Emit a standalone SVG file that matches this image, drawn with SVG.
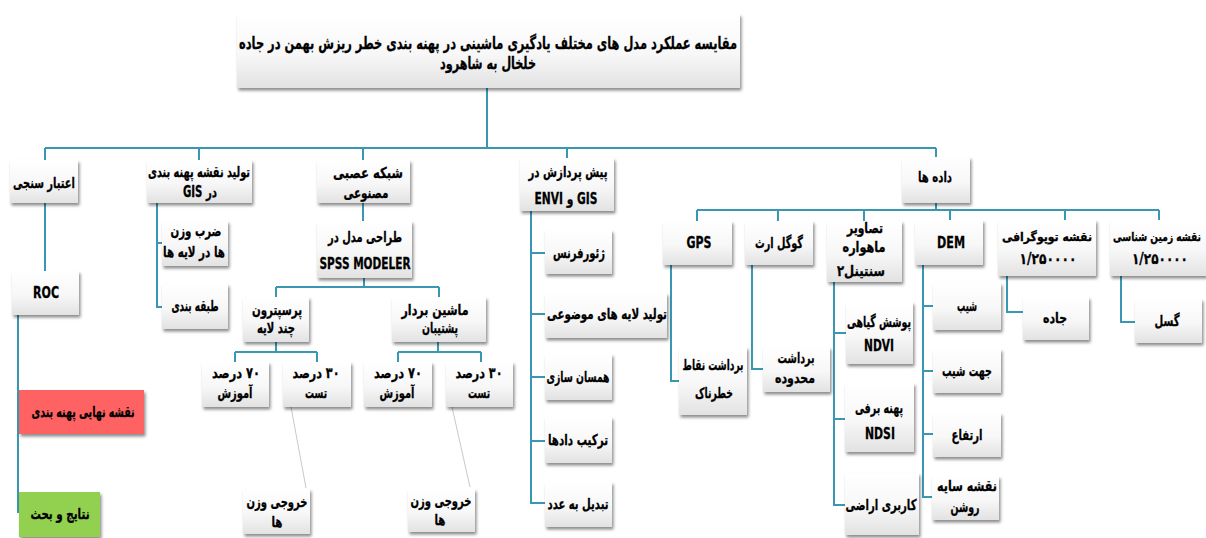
<svg xmlns="http://www.w3.org/2000/svg" width="1206" height="538" viewBox="0 0 1206 538">
<defs>
<linearGradient id="g" x1="0" y1="0" x2="0" y2="1">
<stop offset="0" stop-color="#ffffff"/>
<stop offset="0.55" stop-color="#f7f7f7"/>
<stop offset="1" stop-color="#e2e2e2"/>
</linearGradient>
<filter id="sh" x="-20%" y="-20%" width="140%" height="150%">
<feDropShadow dx="1.5" dy="2.5" stdDeviation="1.5" flood-color="#000" flood-opacity="0.45"/>
</filter>
</defs>
<style>
.b{fill:url(#g);filter:url(#sh);}
.t{font-family:'DejaVu Sans',sans-serif;font-weight:bold;font-size:15px;fill:#000;stroke:#000;stroke-width:0.3;text-anchor:middle;direction:rtl;dominant-baseline:central;}
.tt{font-size:17px;}
.ts{font-size:12px;}
.c{fill:none;stroke:#3A97B2;stroke-width:2;}
.g{fill:none;stroke:#c9c9c9;stroke-width:1;}
</style>
<rect width="1206" height="538" fill="#fff"/>
<g id="connectors">
<path class="c" d="M487 88V148M45 148H936M45 148V160M199 148V160M363 148V160M567 148V158M936 148V157"/>
<path class="c" d="M45 203V271M18 315V513"/>
<path class="c" d="M157 203V307H162M157 243H162"/>
<path class="c" d="M363 203V221M364 278V287M276 287H439M276 287V297M439 287V297"/>
<path class="c" d="M276 342V352M235 352H317M235 352V362M317 352V362"/>
<path class="c" d="M438 342V352M398 352H481M398 352V362M481 352V362"/>
<path class="c" d="M531 211V503H545M531 253H545M531 314H545M531 377H545M531 441H545"/>
<path class="c" d="M936 203V210M697 210H1159M697 210V221M778 210V221M864 210V221M950 210V220M1065 210V220M1159 210V220"/>
<path class="c" d="M671 265V381H679M752 265V369H763"/>
<path class="c" d="M834 282V505H845M834 333H846M834 419H845"/>
<path class="c" d="M923 265V497H932M923 306H933M923 371H933M923 434H933"/>
<path class="c" d="M1007 276V312H1023M1121 276V322H1135"/>
<path class="g" d="M291 407L306 488M452 407L470 487"/>
</g>
<g id="title"><rect class="b" x="237" y="14" width="503" height="74"/>
<text class="t tt" x="488" y="43" textLength="498" lengthAdjust="spacingAndGlyphs">مقایسه عملکرد مدل های مختلف یادگیری ماشینی در  پهنه بندی خطر ریزش بهمن در جاده</text>
<text class="t tt" x="488" y="63" textLength="96" lengthAdjust="spacingAndGlyphs">خلخال به شاهرود</text></g>
<g id="validation"><rect class="b" x="10" y="160" width="68" height="43"/><text class="t" x="44" y="183" textLength="62" lengthAdjust="spacingAndGlyphs">اعتبار سنجی</text></g>
<g id="gismap"><rect class="b" x="147" y="160" width="105" height="43"/><text class="t" x="199" y="172" textLength="102" lengthAdjust="spacingAndGlyphs">تولید نقشه پهنه بندی</text><text class="t" x="200" y="192" textLength="34" lengthAdjust="spacingAndGlyphs">در GIS</text></g>
<g id="ann"><rect class="b" x="317" y="160" width="93" height="43"/><text class="t" x="368" y="173" textLength="70" lengthAdjust="spacingAndGlyphs">شبکه عصبی</text><text class="t" x="366" y="193" textLength="45" lengthAdjust="spacingAndGlyphs">مصنوعی</text></g>
<g id="preproc"><rect class="b" x="520" y="158" width="94" height="53"/><text class="t" x="568" y="172" textLength="79" lengthAdjust="spacingAndGlyphs">پیش پردازش در</text><text class="t" x="566" y="199" textLength="63" lengthAdjust="spacingAndGlyphs">GIS و ENVI</text></g>
<g id="data"><rect class="b" x="902" y="157" width="68" height="46"/><text class="t" x="935" y="177" textLength="34" lengthAdjust="spacingAndGlyphs">داده ها</text></g>
<g id="gps"><rect class="b" x="663" y="221" width="69" height="44"/><text class="t" x="699" y="243" textLength="25" lengthAdjust="spacingAndGlyphs">GPS</text></g>
<g id="googleearth"><rect class="b" x="745" y="221" width="68" height="44"/><text class="t" x="779" y="243" textLength="48" lengthAdjust="spacingAndGlyphs">گوگل ارث</text></g>
<g id="sentinel"><rect class="b" x="827" y="221" width="75" height="61"/><text class="t" x="865" y="228" textLength="36" lengthAdjust="spacingAndGlyphs">تصاویر</text><text class="t" x="864" y="247" textLength="43" lengthAdjust="spacingAndGlyphs">ماهواره</text><text class="t" x="861" y="271" textLength="48" lengthAdjust="spacingAndGlyphs">سنتینل۲</text></g>
<g id="dem"><rect class="b" x="915" y="220" width="68" height="45"/><text class="t" x="951" y="243" textLength="28" lengthAdjust="spacingAndGlyphs">DEM</text></g>
<g id="topo"><rect class="b" x="998" y="220" width="98" height="56"/><text class="t ts" x="1047" y="237" textLength="90" lengthAdjust="spacingAndGlyphs">نقشه توپوگرافی</text><text class="t" x="1048" y="259" textLength="57" lengthAdjust="spacingAndGlyphs">۱/۲۵۰۰۰۰</text></g>
<g id="geology"><rect class="b" x="1110" y="220" width="96" height="56"/><text class="t ts" x="1157" y="237" textLength="88" lengthAdjust="spacingAndGlyphs">نقشه زمین شناسی</text><text class="t" x="1160" y="259" textLength="56" lengthAdjust="spacingAndGlyphs">۱/۲۵۰۰۰۰</text></g>
<g id="slope"><rect class="b" x="933" y="283" width="68" height="47"/><text class="t" x="967" y="306" textLength="20" lengthAdjust="spacingAndGlyphs">شیب</text></g>
<g id="aspect"><rect class="b" x="933" y="349" width="68" height="44"/><text class="t" x="967" y="371" textLength="50" lengthAdjust="spacingAndGlyphs">جهت شیب</text></g>
<g id="elevation"><rect class="b" x="933" y="413" width="68" height="44"/><text class="t" x="967" y="435" textLength="31" lengthAdjust="spacingAndGlyphs">ارتفاع</text></g>
<g id="hillshade"><rect class="b" x="932" y="476" width="67" height="44"/><text class="t" x="967" y="486" textLength="60" lengthAdjust="spacingAndGlyphs">نقشه سایه</text><text class="t" x="965" y="507" textLength="29" lengthAdjust="spacingAndGlyphs">روشن</text></g>
<g id="road"><rect class="b" x="1023" y="297" width="66" height="43"/><text class="t" x="1055" y="318" textLength="24" lengthAdjust="spacingAndGlyphs">جاده</text></g>
<g id="fault"><rect class="b" x="1135" y="299" width="67" height="44"/><text class="t" x="1167" y="321" textLength="25" lengthAdjust="spacingAndGlyphs">گسل</text></g>
<g id="ndvi"><rect class="b" x="846" y="302" width="67" height="62"/><text class="t" x="879" y="322" textLength="64" lengthAdjust="spacingAndGlyphs">پوشش گیاهی</text><text class="t" x="879" y="346" textLength="30" lengthAdjust="spacingAndGlyphs">NDVI</text></g>
<g id="ndsi"><rect class="b" x="845" y="383" width="69" height="69"/><text class="t" x="879" y="408" textLength="48" lengthAdjust="spacingAndGlyphs">پهنه برفی</text><text class="t" x="880" y="434" textLength="30" lengthAdjust="spacingAndGlyphs">NDSI</text></g>
<g id="landuse"><rect class="b" x="845" y="473" width="74" height="62"/><text class="t" x="881" y="505" textLength="71" lengthAdjust="spacingAndGlyphs">کاربری اراضی</text></g>
<g id="hazardpoints"><rect class="b" x="679" y="347" width="68" height="68"/><text class="t" x="713" y="365" textLength="61" lengthAdjust="spacingAndGlyphs">برداشت نقاط</text><text class="t" x="714" y="393" textLength="38" lengthAdjust="spacingAndGlyphs">خطرناک</text></g>
<g id="extent"><rect class="b" x="763" y="347" width="67" height="45"/><text class="t" x="796" y="358" textLength="37" lengthAdjust="spacingAndGlyphs">برداشت</text><text class="t" x="795" y="378" textLength="40" lengthAdjust="spacingAndGlyphs">محدوده</text></g>
<g id="georef"><rect class="b" x="545" y="230" width="67" height="44"/><text class="t" x="579" y="253" textLength="52" lengthAdjust="spacingAndGlyphs">ژئورفرنس</text></g>
<g id="thematic"><rect class="b" x="545" y="293" width="122" height="45"/><text class="t" x="607" y="314" textLength="120" lengthAdjust="spacingAndGlyphs">تولید لایه های موضوعی</text></g>
<g id="matching"><rect class="b" x="545" y="354" width="67" height="46"/><text class="t" x="578" y="377" textLength="63" lengthAdjust="spacingAndGlyphs">همسان سازی</text></g>
<g id="combine"><rect class="b" x="545" y="417" width="67" height="46"/><text class="t" x="578" y="440" textLength="60" lengthAdjust="spacingAndGlyphs">ترکیب دادها</text></g>
<g id="tonumber"><rect class="b" x="545" y="482" width="67" height="45"/><text class="t" x="578" y="504" textLength="61" lengthAdjust="spacingAndGlyphs">تبدیل به عدد</text></g>
<g id="weights"><rect class="b" x="162" y="221" width="66" height="45"/><text class="t" x="196" y="231" textLength="51" lengthAdjust="spacingAndGlyphs">ضرب وزن</text><text class="t" x="194" y="252" textLength="62" lengthAdjust="spacingAndGlyphs">ها در لایه ها</text></g>
<g id="classify"><rect class="b" x="162" y="284" width="66" height="45"/><text class="t" x="195" y="306" textLength="47" lengthAdjust="spacingAndGlyphs">طبقه بندی</text></g>
<g id="spss"><rect class="b" x="317" y="221" width="95" height="57"/><text class="t" x="365" y="237" textLength="74" lengthAdjust="spacingAndGlyphs">طراحی مدل در</text><text class="t" x="365" y="264" textLength="91" lengthAdjust="spacingAndGlyphs">SPSS MODELER</text></g>
<g id="mlp"><rect class="b" x="243" y="297" width="66" height="45"/><text class="t" x="277" y="310" textLength="50" lengthAdjust="spacingAndGlyphs">پرسپترون</text><text class="t" x="276" y="328" textLength="38" lengthAdjust="spacingAndGlyphs">چند لایه</text></g>
<g id="svm"><rect class="b" x="392" y="297" width="94" height="45"/><text class="t" x="435" y="310" textLength="67" lengthAdjust="spacingAndGlyphs">ماشین بردار</text><text class="t" x="440" y="328" textLength="36" lengthAdjust="spacingAndGlyphs">پشتیبان</text></g>
<g id="mlp70"><rect class="b" x="202" y="362" width="67" height="45"/><text class="t" x="236" y="373" textLength="48" lengthAdjust="spacingAndGlyphs">۷۰ درصد</text><text class="t" x="235" y="393" textLength="35" lengthAdjust="spacingAndGlyphs">آموزش</text></g>
<g id="mlp30"><rect class="b" x="283" y="362" width="68" height="45"/><text class="t" x="316" y="373" textLength="47" lengthAdjust="spacingAndGlyphs">۳۰ درصد</text><text class="t" x="316" y="393" textLength="22" lengthAdjust="spacingAndGlyphs">تست</text></g>
<g id="svm70"><rect class="b" x="364" y="362" width="68" height="45"/><text class="t" x="398" y="373" textLength="48" lengthAdjust="spacingAndGlyphs">۷۰ درصد</text><text class="t" x="397" y="393" textLength="35" lengthAdjust="spacingAndGlyphs">آموزش</text></g>
<g id="svm30"><rect class="b" x="446" y="362" width="67" height="45"/><text class="t" x="479" y="373" textLength="47" lengthAdjust="spacingAndGlyphs">۳۰ درصد</text><text class="t" x="479" y="393" textLength="22" lengthAdjust="spacingAndGlyphs">تست</text></g>
<g id="out1"><rect class="b" x="243" y="489" width="67" height="45"/><text class="t" x="277" y="502" textLength="61" lengthAdjust="spacingAndGlyphs">خروجی وزن</text><text class="t" x="277" y="522" textLength="11" lengthAdjust="spacingAndGlyphs">ها</text></g>
<g id="out2"><rect class="b" x="408" y="489" width="67" height="43"/><text class="t" x="441" y="501" textLength="61" lengthAdjust="spacingAndGlyphs">خروجی وزن</text><text class="t" x="440" y="520" textLength="11" lengthAdjust="spacingAndGlyphs">ها</text></g>
<g id="roc"><rect class="b" x="12" y="271" width="67" height="44"/><text class="t" x="46" y="293" textLength="26" lengthAdjust="spacingAndGlyphs">ROC</text></g>
<g id="finalmap"><rect x="19" y="390" width="125" height="44" fill="#FF6262" filter="url(#sh)"/><text class="t" x="83" y="412" textLength="103" lengthAdjust="spacingAndGlyphs">نقشه نهایی پهنه بندی</text></g>
<g id="results"><rect x="19" y="492" width="81" height="45" fill="#92D050" filter="url(#sh)"/><text class="t" x="60" y="514" textLength="59" lengthAdjust="spacingAndGlyphs">نتایج و بحث</text></g>
</svg>
